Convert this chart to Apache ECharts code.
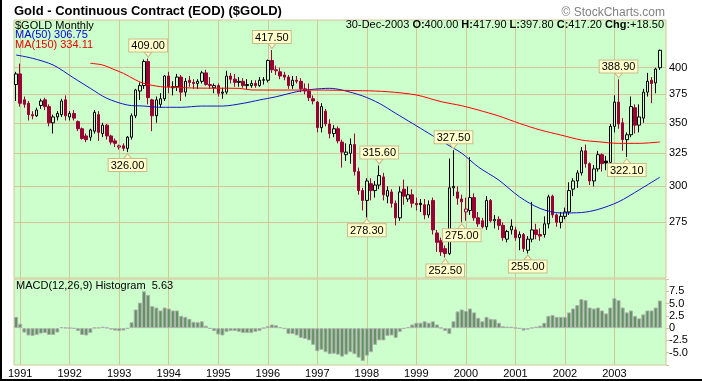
<!DOCTYPE html>
<html><head><meta charset="utf-8">
<script src="https://cdn.jsdelivr.net/npm/echarts@6/dist/echarts.min.js"></script>
<style>
html,body{margin:0;padding:0;background:#fff;}
#c{width:702px;height:381px;}
</style></head><body><div id="c"></div>
<script>
// ---- DATA (monthly, Dec 1990 .. Dec 2003) ----
const startYear = 1990, startMonth = 12;
const opens = [384,394,370,367,357,356,365,370,364,350,355,357,370,355,358,351,345,339,338,343,357,341,348,339,335,330,331,329,338,356,378,383,406,370,356,366,371,392,381,382,391,377,388,386,385,387,395,384,381,383,376,377,392,389,386,387,383,383,385,383,388,388,407,398,396,393,391,383,388,387,380,378,371,368,346,360,349,341,345,334,324,325,332,311,297,290,302,297,301,307,293,296,288,278,298,291,294,288,288,287,280,290,268,263,258,255,299,296,291,282,283,292,278,276,272,290,276,277,273,264,270,270,265,267,257,264,270,267,267,274,293,280,275,279,282,298,304,310,327,317,304,313,324,319,318,347,368,350,336,340,363,348,354,377,388,385.5,400];
const highs = [396,404,373,369,360,363,371,372,366,357,360,371,374,360,361,352,346,341,345,361,360,350,349,340,337,332,333,339,358,380,386,408,409,371,373,376,393,396,387,394,393,390,392,389,389,397,398,391,385,385,381,397,395,394,391,390,389,388,388,391,391,408,417.5,402,400,396,393,392,392,390,385,385,374,369,367,362,353,348,347,336,333,337,341,314,299,306,306,304,315.6,310,300,298,290,300,305,300,298,292,291,291,290,292,270,265,260,321,327.5,300,294,292,322,295,282,278,293,291,280,279,275,270,277,272,269,268,266,289,274,271,279,294,294,281,282,285,303,306,312,330,332,318,316,327,325,323,349,374,388.9,354,342,373,366,366,380,395,391,400,417.9];
const lows = [369,364,363,352,353,355,362,361,347,341,352,355,352,352,352,343,336,334,335,341,335,338,336,332,330,328,327,326,336,354,370,380,366,343,350,363,369,376,374,378,369,373,382,380,380,385,383,380,376,373,371,375,385,382,382,381,380,381,381,382,384,386,395,393,389,388,380,380,385,377,375,369,366,342,342,347,337,338,333,314,319,317,308,294,283,278.3,290,292,298,290,288,285,273,276,287,289,285,283,282,277,278,267,256,253.5,252.5,254,293,287,275,276,280,276,272,271,270,275,271,270,263,262,267,263,257,256,255,262,264,263,265,271,278,272,271,277,280,293,299,308,314,301,300,311,311,312,316,342,345,327,322.1,338,341,342,350,373,367,376,397.8];
const closes = [394,367,366,357,356,361,369,364,350,355,358,369,356,358,354,345,337,336,344,359,342,348,339,334,333,331,329,338,356,379,383,406,372,356,370,371,392,382,382,391,377,387,386,385,387,395,384,383,383,376,377,392,389,386,387,383,384,385,383,388,388.5,407,398,397,392,391,383,388,387,380,378,372,369,346,364,349,341,345,335,326,326,332,311,297,290,304,297,301,308,294,297,288,278,296,293,294,288,287,287,280,287,270,262,256,255,299,300,291.5,289,284,292,278,274,272,290,276,277,273,265,269,272.5,265,267,258,264,270,267,266,274,292.5,280,275,279,282,297,304,310,327,317,304,313,324,317,317.5,347,368,349,336,340,364,348,355,377,387,385,398.7,417.2];
const macdHist = [2.3,0.9,-0.9,-1.5,-1.6,-1.4,-1.1,-1.0,-1.4,-1.4,-0.9,0.2,0.1,0.02,-0.1,-0.6,-1.4,-1.5,-1.0,0.1,0.1,0.3,0.1,-0.3,-0.5,-0.6,-0.5,-0.1,1.2,3.8,5.2,7.5,6.8,4.5,4.2,3.6,4.2,4.0,3.6,3.6,2.5,2.3,1.9,1.3,1.2,1.4,0.5,-0.1,-0.6,-1.3,-1.5,-0.8,-0.6,-0.6,-0.75,-1.0,-1.0,-1.0,-0.75,-0.6,0.02,0.4,0.75,0.6,0.2,-0.1,-1.2,-1.2,-1.5,-2.0,-2.2,-2.5,-3.4,-4.7,-4.4,-4.9,-5.3,-5.2,-5.4,-5.8,-5.4,-4.9,-5.3,-6.0,-6.7,-5.6,-4.9,-3.4,-2.5,-2.5,-1.6,-1.5,-2.0,-0.75,-0.1,0.2,0.75,1.1,1.1,1.4,1.1,1.4,0.75,0.07,-0.6,-1.2,1.4,3.4,3.8,3.5,4.0,3.2,2.1,1.4,2.3,1.9,1.8,1.1,0.4,0.3,0.3,0.07,-0.1,-0.5,-0.3,0.07,0.3,0.5,1.1,2.5,2.7,2.3,2.3,2.3,3.2,4.0,4.7,5.9,5.7,4.2,4.0,4.2,3.6,3.0,4.2,6.1,5.7,4.2,3.2,3.6,2.5,2.0,2.8,3.6,3.6,4.2,5.63];
// moving averages at selected months (month index, value)
const ma50At  = [0,4,9,14,18,22,27,31,35,40,45,50,55,59,63,68,72,76,79,84,88,92,96,100,104,108,112,117,122,127,132,137,141,146,151,156];
const ma50    = [412.5,409.2,402.6,390.1,380.5,371.4,365.4,364.5,363.4,363.4,364.5,364.5,366.9,369.9,372.8,377.4,379.6,380.5,378.9,373.5,366.9,358.1,349.6,341.2,333.0,325.1,314.5,304.6,292.5,284.4,281.3,281.6,283.7,289.0,297.5,306.75];
const ma150At = [18,21,24,26,29,31,35,38,44,54,57,63,72,84,90,97,103,108,112,117,122,127,132,137,141,146,151,156];
const ma150   = [404.3,402.6,397.8,394.6,388.3,385.0,382.0,381.5,380.7,380.5,379.0,378.9,378.9,378.3,377.4,374.4,368.4,364.8,361.0,355.8,349.5,344.0,339.8,335.7,334.3,333.0,333.0,334.11];
const priceTicks = [275,300,325,350,375,400];
const macdTickMin = -5, macdTickMax = 7.5;
// annotations: month index, value, above(1)/below(0)
const annIdx = [27,32,62,85,88,104,106,108,124,146,148];
const annVal = [326.00,409.00,417.50,278.30,315.60,252.50,327.50,275.00,255.00,388.90,322.10];
const annUp  = [0,1,1,0,1,0,1,0,0,1,0];
const lastDate = '30-Dec-2003';

// ---- STYLE ----
const BG = '#ccffcc', GRIDC = '#d3c697', DOWN = '#990033';
const FF = '"Liberation Sans", Arial, sans-serif';

const N = opens.length;
const cats = [];
for (let k = 0; k < N + 1; k++) {
  const m0 = startMonth - 1 + k;
  cats.push((startYear + Math.floor(m0 / 12)) + '-' + String(m0 % 12 + 1).padStart(2, '0'));
}
const isJan = (i, v) => i < N && String(v).slice(5) === '01';

const candleData = opens.map((o, k) => {
  const c = closes[k], prev = k > 0 ? closes[k - 1] : o;
  const col = c < prev ? DOWN : '#000';
  const fill = c > o ? BG : col;
  return { value: [o, c, lows[k], highs[k]],
    itemStyle: { color: fill, color0: fill, borderColor: col, borderColor0: col, borderColorDoji: col } };
});

const last = N - 1;
const chg = closes[last] - closes[last - 1];
const info = lastDate + ' {b|O:}' + opens[last].toFixed(2) + ' {b|H:}' + highs[last].toFixed(2) +
  ' {b|L:}' + lows[last].toFixed(2) + ' {b|C:}' + closes[last].toFixed(2) +
  ' {b|Chg:}' + (chg >= 0 ? '+' : '') + chg.toFixed(2);

const xCommon = (gi, labels) => ({
  type: 'category', gridIndex: gi, data: cats, boundaryGap: true,
  axisLine: { show: false }, axisTick: { show: false },
  axisLabel: labels ? { show: true, interval: isJan, formatter: v => v.slice(0, 4), color: '#000', fontSize: 11, fontFamily: FF, margin: 3 } : { show: false },
  splitLine: { show: true, interval: isJan, alignWithLabel: true, lineStyle: { color: GRIDC, width: 1 } }
});

const chart = echarts.init(document.getElementById('c'), null, { renderer: 'canvas' });
chart.setOption({
  animation: false,
  backgroundColor: '#fff',
  textStyle: { fontFamily: FF },
  grid: [
    { left: 14, top: 20, width: 652, height: 258, show: true, backgroundColor: BG, borderColor: GRIDC, borderWidth: 1 },
    { left: 14, top: 279, width: 652, height: 86, show: true, backgroundColor: BG, borderColor: GRIDC, borderWidth: 1 }
  ],
  xAxis: [xCommon(0, false), xCommon(1, true)],
  yAxis: [
    { type: 'log', gridIndex: 0, position: 'right', min: 240.3, max: 449,
      axisLine: { show: false }, axisTick: { show: false }, axisLabel: { show: false }, splitLine: { show: false } },
    { type: 'value', gridIndex: 1, position: 'right', min: -7.5, max: 10, interval: 2.5,
      axisLine: { show: false }, splitLine: { show: false },
      axisTick: { show: true, length: 3, lineStyle: { color: GRIDC } },
      axisLabel: { color: '#000', fontSize: 11, fontFamily: FF, margin: 3,
        formatter: v => (v < macdTickMin || v > macdTickMax) ? '' : (v === 0 ? '0' : v.toFixed(1)) } }
  ],
  series: [
    { type: 'candlestick', xAxisIndex: 0, yAxisIndex: 0, data: candleData, barWidth: 3, z: 3,
      itemStyle: { borderWidth: 1 },
      markLine: { silent: true, symbol: ['none', 'none'], z: 1, animation: false,
        lineStyle: { color: GRIDC, width: 1, type: 'solid' },
        label: { show: true, position: 'end', distance: 3, color: '#000', fontSize: 11, fontFamily: FF, formatter: p => String(p.value) },
        data: priceTicks.map(v => ({ yAxis: v })) },
      markPoint: { silent: true, animation: false, z: 6,
        data: annIdx.map((k, j) => ({
          coord: [k, annVal[j]], value: annVal[j],
          symbol: 'triangle', symbolSize: [8, 5], symbolRotate: annUp[j] ? 180 : 0,
          symbolOffset: [0, annUp[j] ? -4 : 4],
          itemStyle: { color: '#ffffcc', borderColor: '#c9bb8c', borderWidth: 1 },
          label: { show: true, position: annUp[j] ? 'top' : 'bottom', distance: 0,
            formatter: annVal[j].toFixed(2), color: '#000', fontSize: 11, fontFamily: FF,
            backgroundColor: '#ffffcc', borderColor: '#c9bb8c', borderWidth: 1, padding: [1, 2, 0, 2], lineHeight: 11 }
        })) } },
    { type: 'line', xAxisIndex: 0, yAxisIndex: 0, data: ma50At.map((k, j) => [k, ma50[j]]),
      symbol: 'none', smooth: 0.3, lineStyle: { color: '#1414c8', width: 1 }, z: 4 },
    { type: 'line', xAxisIndex: 0, yAxisIndex: 0, data: ma150At.map((k, j) => [k, ma150[j]]),
      symbol: 'none', smooth: 0.3, lineStyle: { color: '#ff0000', width: 1 }, z: 4 },
    { type: 'bar', xAxisIndex: 1, yAxisIndex: 1, data: macdHist, barWidth: 4,
      itemStyle: { color: '#5e955e', borderColor: '#b0b0b0', borderWidth: 1 } }
  ],
  graphic: [
    { type: 'rect', shape: { x: 0, y: 0, width: 2, height: 381 }, style: { fill: '#000' }, z: 100 },
    { type: 'rect', shape: { x: 0, y: 379, width: 702, height: 2 }, style: { fill: '#000' }, z: 100 },
    { type: 'text', left: 14, top: 5, z: 100, style: { text: 'Gold - Continuous Contract (EOD) ($GOLD)', font: 'bold 13px ' + FF, fill: '#000' } },
    { type: 'text', right: 37, top: 7, z: 100, style: { text: '\u00a9 StockCharts.com', font: '12px ' + FF, fill: '#808080' } },
    { type: 'text', right: 38, top: 19, z: 100, style: { text: info, font: '11px ' + FF, fill: '#000', rich: { b: { fontWeight: 'bold', fontSize: 11, fontFamily: FF } } } },
    { type: 'text', left: 15, top: 20, z: 100, style: { text: '$GOLD Monthly', font: '11px ' + FF, fill: '#000' } },
    { type: 'text', left: 15, top: 29.5, z: 100, style: { text: 'MA(50) ' + ma50[ma50.length - 1].toFixed(2), font: '11px ' + FF, fill: '#0000dd' } },
    { type: 'text', left: 15, top: 39.5, z: 100, style: { text: 'MA(150) ' + ma150[ma150.length - 1].toFixed(2), font: '11px ' + FF, fill: '#ee0000' } },
    { type: 'text', left: 16, top: 280, z: 100, style: { text: 'MACD(12,26,9) Histogram  ' + macdHist[last].toFixed(2), font: '11px ' + FF, fill: '#000' } }
  ]
});
</script></body></html>
